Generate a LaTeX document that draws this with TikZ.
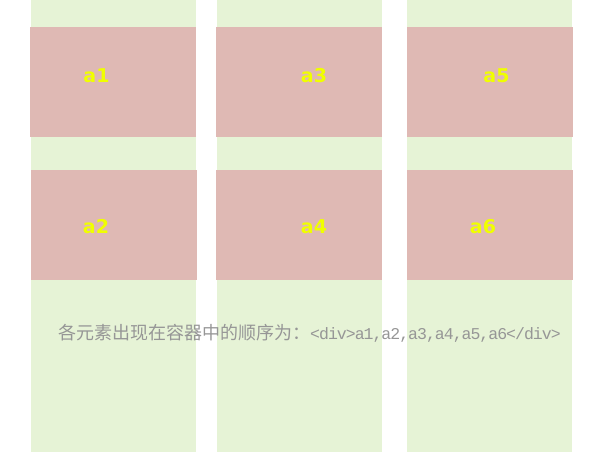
\documentclass[tikz,border=0pt]{standalone}
\usepackage{fontspec}
\newfontfamily\cjk{Noto Sans CJK SC}
\newfontfamily\codefont[LetterSpace=-6]{Liberation Mono}
\newfontfamily\labelfont{DejaVu Sans}
\usetikzlibrary{positioning}
\definecolor{colgreen}{RGB}{230,243,214}
\definecolor{boxpink}{RGB}{223,185,180}
\definecolor{labelyellow}{RGB}{240,255,0}
\definecolor{notegray}{RGB}{150,150,150}

\begin{document}
\begin{tikzpicture}[x=1pt,y=-1pt]
	\useasboundingbox (0,0) rectangle (600,452);
	% the three columns
	\foreach \x in {31,217,407}
	{\fill[colgreen] (\x,0) rectangle ++(165,452);}

	\begin{scope}[every node/.style={rectangle, fill=boxpink, inner sep=0pt, outer sep=0pt,
	              minimum width=166pt, minimum height=110pt}]
		\node (b1) at (113,82) {};
		\node (b3) at (299,82) {};
		\node (b5) at (490,82) {};
		\node (b2) at (114,225) {};
		\node (b4) at (299,225) {};
		\node (b6) at (490,225) {};
	\end{scope}

	\begin{scope}[every node/.style={text=labelyellow, anchor=base, inner sep=0pt,
	              font=\labelfont\bfseries\fontsize{19}{19}\selectfont}]
		\node (l1) at (96.5,82) {a1};
		\node (l3) at (314,82) {a3};
		\node (l5) at (496.5,82) {a5};
		\node (l2) at (96,233) {a2};
		\node (l4) at (314,233) {a4};
		\node (l6) at (483,233) {a6};
	\end{scope}

	\node[anchor=base west, inner sep=0pt, text=notegray, font=\cjk\fontsize{18}{18}\selectfont]
		(note) at (58,339) {各元素出现在容器中的顺序为：{\codefont\fontsize{16.5}{16.5}\selectfont <div>a1,a2,a3,a4,a5,a6</div>}};
\end{tikzpicture}
\end{document}
